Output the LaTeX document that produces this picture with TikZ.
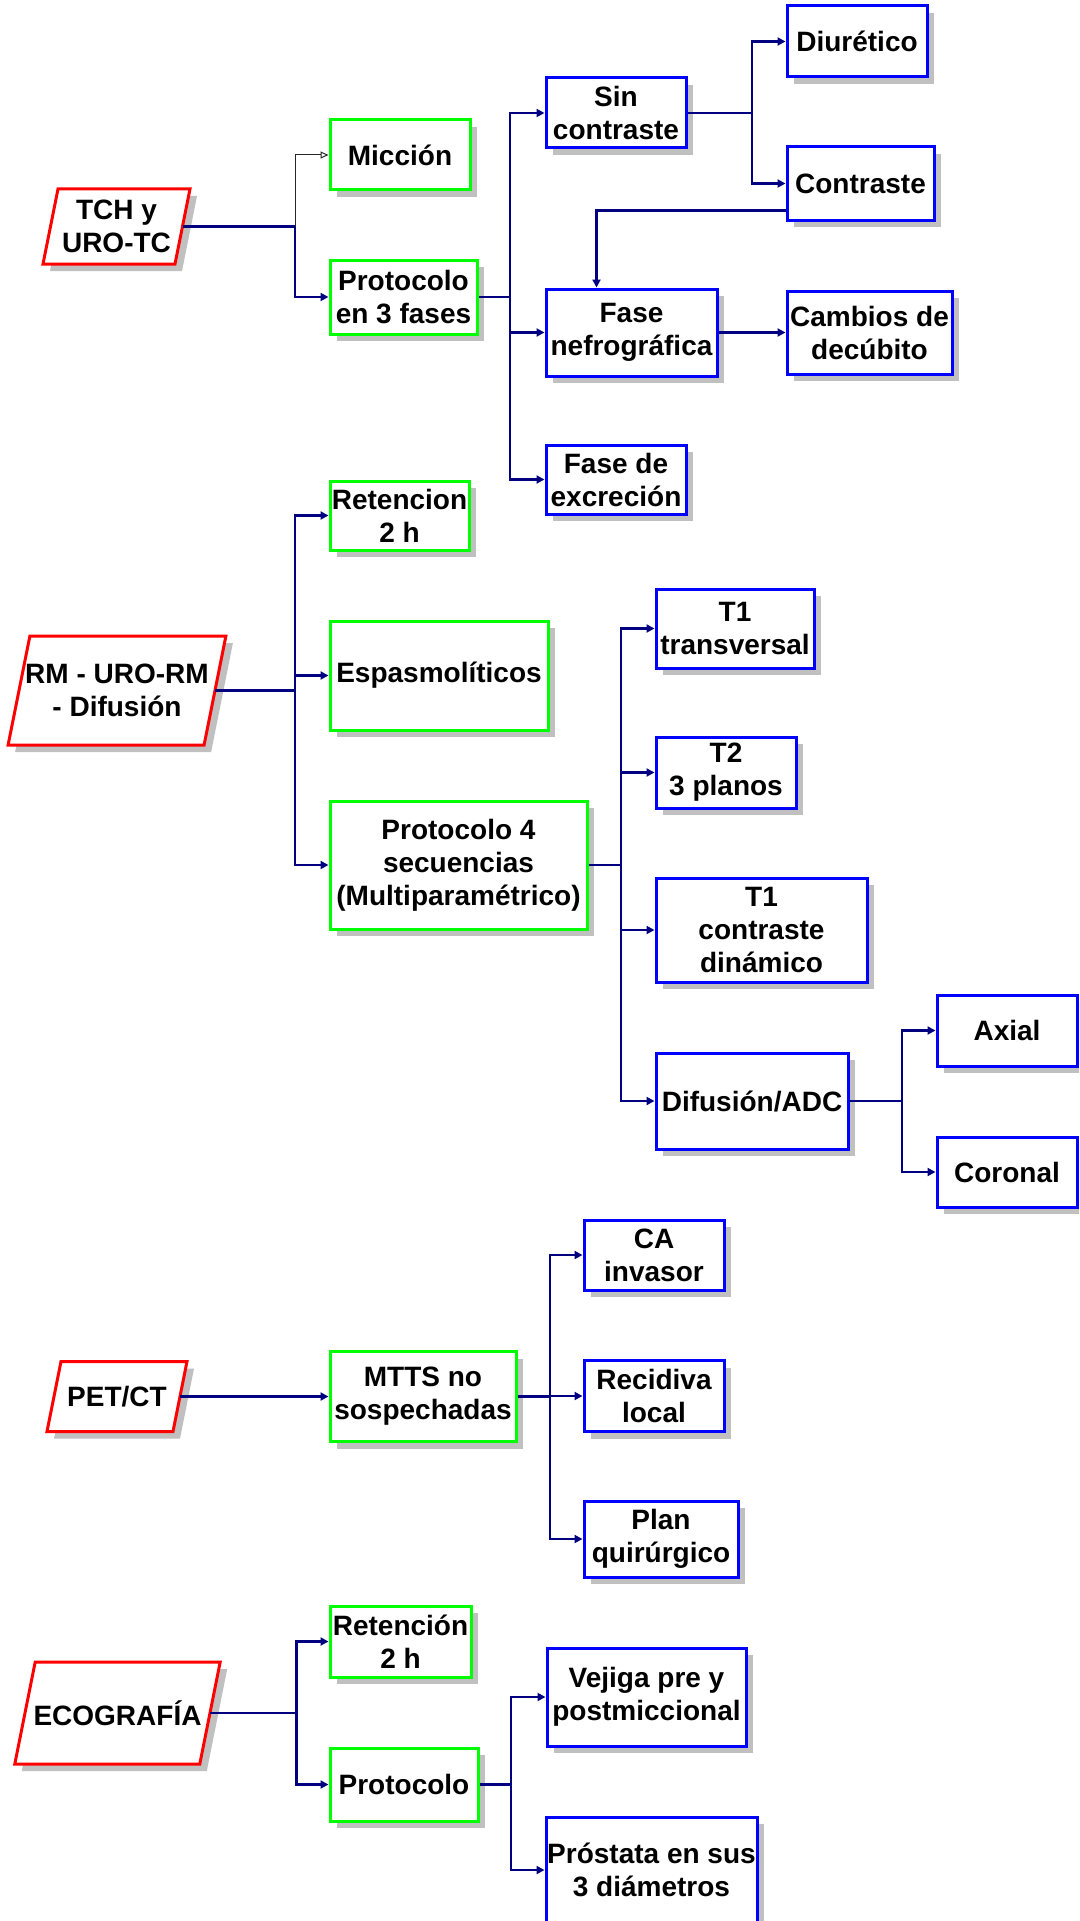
\documentclass[tikz,border=0pt]{standalone}
\usepackage{fontspec}
\setmainfont{Liberation Sans}
\usetikzlibrary{arrows.meta,shadows,calc}
\definecolor{shadowgray}{HTML}{C0C0C0}
\definecolor{linknavy}{HTML}{000080}
\definecolor{boxgreen}{HTML}{00FF00}
\definecolor{boxblue}{HTML}{0000FF}
\definecolor{boxred}{HTML}{FF0000}

\tikzset{
  lbl/.style={font=\bfseries\fontsize{28}{33}\selectfont, align=center, text=black},
  sz/.style 2 args={minimum width=#1, minimum height=#2},
  box/.style={lbl, draw, line width=3pt, fill=white, inner sep=0pt,
    drop shadow={shadow xshift=7pt, shadow yshift=-7pt, fill=shadowgray, opacity=1}},
  gbox/.style={box, draw=boxgreen},
  bbox/.style={box, draw=boxblue},
  paratext/.style={lbl, inner sep=0pt, outer sep=0pt},
  paraedge/.style={draw=boxred, line width=3pt, fill=white},
  paraback/.style={fill=shadowgray},
  link/.style={draw=linknavy, line width=2.2pt},
  arr/.style={link, -{Triangle[length=8pt,width=8pt]}},
  thinarr/.style={draw=black!85, line width=1pt, -{Triangle[open,length=8pt,width=7pt,fill=white]}},
}

% slanted input box: name, centre x, centre y, half width, half height, text
\newcommand{\paranode}[6]{%
  \begin{scope}[shift={(#2,#3)}]
    \pgfmathsetmacro{\sk}{0.2*#5}
    \path[paraback] ({-#4+\sk+7},{-#5+7}) -- ({#4+\sk+7},{-#5+7})
      -- ({#4-\sk+7},{#5+7}) -- ({-#4-\sk+7},{#5+7}) -- cycle;
    \path[paraedge] ({-#4+\sk},{-#5}) -- ({#4+\sk},{-#5})
      -- ({#4-\sk},{#5}) -- ({-#4-\sk},{#5}) -- cycle;
    \node[paratext, minimum width={2*#4}, minimum height={2*#5}] (#1) at (0,0) {#6};
  \end{scope}}

\begin{document}
\begin{tikzpicture}[x=1pt, y=-1pt]
\useasboundingbox (0,0) rectangle (1079,1921);
\fill[white] (0,0) rectangle (1079,1921);
\clip (0,0) rectangle (1079,1921);

% ---------------- TCH y URO-TC ----------------
\paranode{tch}{116.5}{226.5}{66}{37.5}{TCH y\\URO-TC}
\node[gbox, sz={140}{70}]  (mic) at (400,155)     {Micción};
\node[gbox, sz={147}{74}]  (p3)  at (403.5,297)   {Protocolo\\en 3 fases};
\node[bbox, sz={140}{70}]  (sin) at (616,113)     {Sin\\contraste};
\node[bbox, sz={140}{71}]  (diu) at (857,41.5)    {Diurético};
\node[bbox, sz={147}{73}]  (con) at (860.5,183.5) {Contraste};
\node[bbox, sz={171}{87}]  (nef) at (631.5,332.5) {Fase\\nefrográfica};
\node[bbox, sz={165}{83}]  (cam) at (869.5,332.5) {Cambios de\\decúbito};
\node[bbox, sz={140}{69}]  (exc) at (616,479.5)   {Fase de\\excreción};

\coordinate (j1) at (295,0);
\coordinate (j2) at (510,0);
\coordinate (j3) at (752,0);
\draw[link] (tch.east) -- (tch.east -| j1);
\draw[thinarr] (tch.east -| j1) |- (mic.west);
\draw[arr] (tch.east -| j1) |- (p3.west);
\draw[link] (p3.east) -- (p3.east -| j2);
\draw[arr] (p3.east -| j2) |- (sin.west);
\draw[arr] (p3.east -| j2) |- (nef.west);
\draw[arr] (p3.east -| j2) |- (exc.west);
\draw[link] (sin.east) -- (sin.east -| j3);
\draw[arr] (sin.east -| j3) |- (diu.west);
\draw[arr] (sin.east -| j3) |- (con.west);
\draw[arr] ($(con.south west)+(0,-11)$) -| ($(nef.north west)+(52,0)$);
\draw[arr] (nef.east) -- (cam.west);

% ---------------- RM - URO-RM - Difusión ----------------
\paranode{rm}{117}{690.5}{98}{54.5}{RM - URO-RM\\- Difusión}
\node[gbox, sz={139}{69}]  (ret) at (399.5,515.5) {Retencion\\2 h};
\node[gbox, sz={218}{109}] (esp) at (439,675.5)   {Espasmolíticos};
\node[gbox, sz={257}{128}] (p4)  at (458.5,865)   {Protocolo 4\\secuencias\\(Multiparamétrico)};
\node[bbox, sz={158}{79}]  (t1t) at (735,628.5)   {T1\\transversal};
\node[bbox, sz={140}{71}]  (t2)  at (726,772.5)   {T2\\3 planos};
\node[bbox, sz={211}{104}] (t1c) at (761.5,930)   {T1\\contraste\\dinámico};
\node[bbox, sz={192}{96}]  (dif) at (752,1101)    {Difusión/ADC};
\node[bbox, sz={140}{71}]  (axi) at (1007,1030.5) {Axial};
\node[bbox, sz={140}{70}]  (cor) at (1007,1172)   {Coronal};

\coordinate (j4) at (295,0);
\coordinate (j5) at (621,0);
\coordinate (j6) at (902,0);
\draw[link] (rm.east) -- (rm.east -| j4);
\draw[arr] (rm.east -| j4) |- (ret.west);
\draw[arr] (rm.east -| j4) |- (esp.west);
\draw[arr] (rm.east -| j4) |- (p4.west);
\draw[link] (p4.east) -- (p4.east -| j5);
\draw[arr] (p4.east -| j5) |- (t1t.west);
\draw[arr] (p4.east -| j5) |- (t2.west);
\draw[arr] (p4.east -| j5) |- (t1c.west);
\draw[arr] (p4.east -| j5) |- (dif.west);
\draw[link] (dif.east) -- (dif.east -| j6);
\draw[arr] (dif.east -| j6) |- (axi.west);
\draw[arr] (dif.east -| j6) |- (cor.west);

% ---------------- PET/CT ----------------
\paranode{pet}{117}{1396.5}{63}{35}{PET/CT}
\node[gbox, sz={186}{90}]  (mtts) at (423,1396.5) {MTTS no\\sospechadas};
\node[bbox, sz={140}{70}]  (ca)   at (654,1255)   {CA\\invasor};
\node[bbox, sz={140}{71}]  (rec)  at (654,1396)   {Recidiva\\local};
\node[bbox, sz={154}{76}]  (plan) at (661,1539)   {Plan\\quirúrgico};

\coordinate (j7) at (550,0);
\draw[arr] (pet.east) -- (mtts.west);
\draw[link] (mtts.east) -- (mtts.east -| j7);
\draw[arr] (mtts.east -| j7) |- (ca.west);
\draw[arr] (mtts.east -| j7) |- (rec.west);
\draw[arr] (mtts.east -| j7) |- (plan.west);

% ---------------- ECOGRAFÍA ----------------
\paranode{eco}{117.5}{1713}{92.5}{51}{ECOGRAFÍA}
\node[gbox, sz={141}{71}]  (ret2) at (400.5,1641.5) {Retención\\2 h};
\node[gbox, sz={148}{73}]  (prot) at (404,1784.5)   {Protocolo};
\node[bbox, sz={199}{98}]  (vej)  at (646.5,1697)   {Vejiga pre y\\postmiccional};
\node[bbox, sz={211}{106}] (pro)  at (651.5,1870)   {Próstata en sus\\3 diámetros};

\coordinate (j8) at (296.5,0);
\coordinate (j9) at (511,0);
\draw[link] (eco.east) -- (eco.east -| j8);
\draw[arr] (eco.east -| j8) |- (ret2.west);
\draw[arr] (eco.east -| j8) |- (prot.west);
\draw[link] (prot.east) -- (prot.east -| j9);
\draw[arr] (prot.east -| j9) |- (vej.west);
\draw[arr] (prot.east -| j9) |- (pro.west);
\end{tikzpicture}
\end{document}
